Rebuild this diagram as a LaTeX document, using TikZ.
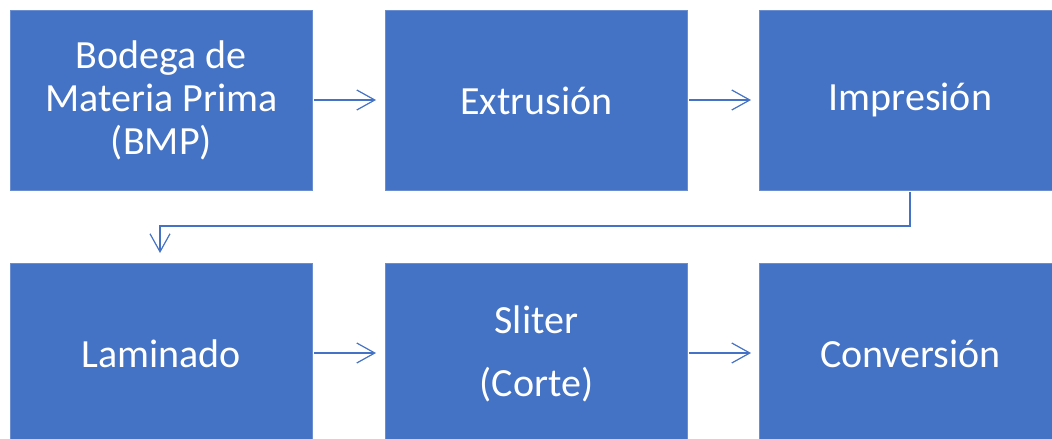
\documentclass[tikz,border=0pt]{standalone}
\usepackage{fontspec}
\setmainfont{Carlito}
\usetikzlibrary{arrows.meta}
\definecolor{boxblue}{HTML}{4472C4}
\definecolor{boxedge}{HTML}{6A8ED0}
\begin{document}
\begin{tikzpicture}[x=1pt,y=-1pt,
  stepbox/.style={fill=boxblue,draw=boxedge,line width=0.8pt,minimum width=302pt,minimum height=180pt,
    inner sep=0pt,anchor=north west,text=white,align=center,
    font=\fontsize{40pt}{43pt}\selectfont},
  conn/.style={draw=boxblue,line width=1.2pt,-{Straight Barb[length=18pt,width=20pt,line width=1.2pt]}}]
\useasboundingbox (0,0) rectangle (1052,439);
\begin{scope}
\clip (0,0) rectangle (1052,439);
\node[stepbox] (a) at (10,10) {Bodega de\\Materia Prima\\(BMP)};
\node[stepbox] (b) at (385,10) {Extrusión};
\node[stepbox] (c) at (759,10) {Impresión};
\node[stepbox] (d) at (10,263) {Laminado};
\node[stepbox] (e) at (385,263) {Sliter\\[20pt](Corte)};
\node[stepbox] (f) at (759,263) {Conversión};
\end{scope}
\coordinate (a1) at (314,100);
\coordinate (a2) at (376,100);
\coordinate (b1) at (689,100);
\coordinate (b2) at (751,100);
\coordinate (c1) at (910,192);
\coordinate (c2) at (160,253);
\coordinate (d1) at (314,353);
\coordinate (d2) at (376,353);
\coordinate (e1) at (689,353);
\coordinate (e2) at (751,353);
\draw[conn] (a1) -- (a2);
\draw[conn] (b1) -- (b2);
\draw[conn] (c1) |- (160,226) -- (c2);
\draw[conn] (d1) -- (d2);
\draw[conn] (e1) -- (e2);
\end{tikzpicture}
\end{document}
